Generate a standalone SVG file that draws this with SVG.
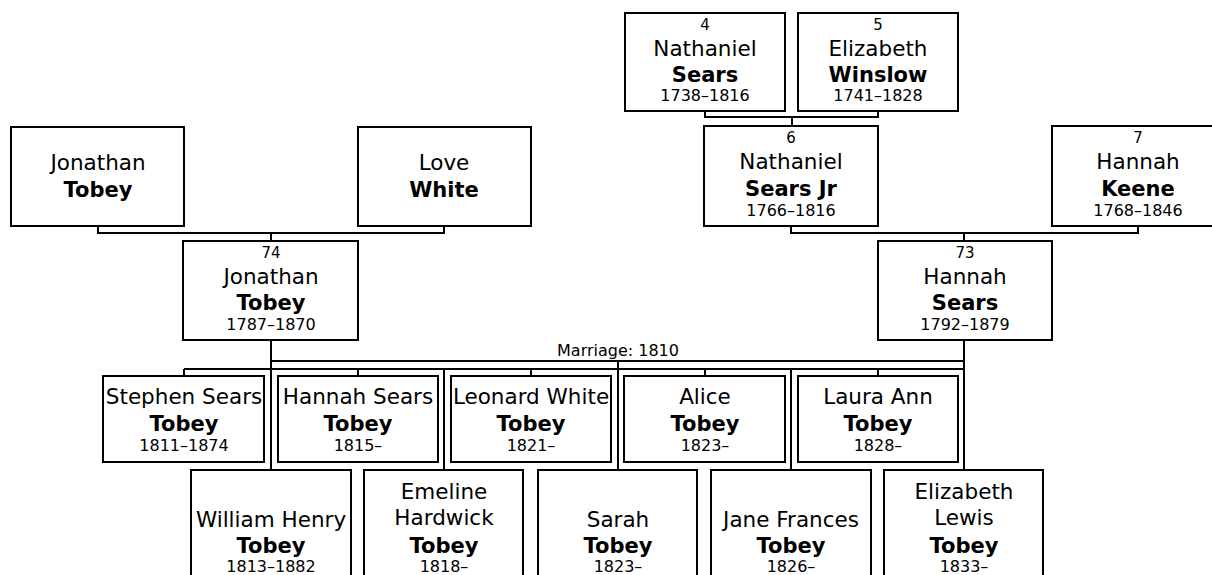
<svg xmlns="http://www.w3.org/2000/svg" width="1212" height="575" viewBox="0 0 1212 575">
<style>
.box{fill:#fff;stroke:#000;stroke-width:2}
.con{fill:none;stroke:#000;stroke-width:2}
text{font-family:"DejaVu Sans","Verdana",sans-serif;fill:#000;text-anchor:middle}
.n{font-size:15px}
.g{font-size:21.5px}
.s{font-size:21px;font-weight:bold}
.y{font-size:16px}
.m{font-size:16px}
</style>
<rect width="1212" height="575" fill="#fff"/>
<g id="connectors">
<path class="con" d="M705,111 V117 H878 V111 M792,117 V126"/>
<path class="con" d="M791,226 V233 H1138 V226 M964,233 V241"/>
<path class="con" d="M98,226 V233 H444 V226 M271,233 V241"/>
<path class="con" d="M271,340 V361 H964 V340"/>
<path class="con" d="M618,361 V369 M184,369 H964"/>
<path class="con" d="M184,369 V376 M358,369 V376 M531,369 V376 M705,369 V376 M878,369 V376"/>
<path class="con" d="M271,361 V470 M444,369 V470 M618,369 V470 M791,369 V470 M964,361 V470"/>
<text class="m" x="618" y="356">Marriage: 1810</text>
</g>
<g id="p4"><rect class="box" x="625" y="13" width="160" height="98"/>
<text class="n" x="705" y="30">4</text><text class="g" x="705" y="56">Nathaniel</text><text class="s" x="705" y="82">Sears</text><text class="y" x="705" y="101">1738–1816</text></g>
<g id="p5"><rect class="box" x="798" y="13" width="160" height="98"/>
<text class="n" x="878" y="30">5</text><text class="g" x="878" y="56">Elizabeth</text><text class="s" x="878" y="82">Winslow</text><text class="y" x="878" y="101">1741–1828</text></g>
<g id="p6"><rect class="box" x="704" y="126" width="174" height="100"/>
<text class="n" x="791" y="143">6</text><text class="g" x="791" y="169">Nathaniel</text><text class="s" x="791" y="196">Sears Jr</text><text class="y" x="791" y="216">1766–1816</text></g>
<g id="p7"><rect class="box" x="1052" y="126" width="173" height="100"/>
<text class="n" x="1138" y="143">7</text><text class="g" x="1138" y="169">Hannah</text><text class="s" x="1138" y="196">Keene</text><text class="y" x="1138" y="216">1768–1846</text></g>
<g id="jonathan-sr"><rect class="box" x="11" y="127" width="173" height="99"/>
<text class="g" x="98" y="170">Jonathan</text><text class="s" x="98" y="197">Tobey</text></g>
<g id="love-white"><rect class="box" x="358" y="127" width="173" height="99"/>
<text class="g" x="444" y="170">Love</text><text class="s" x="444" y="197">White</text></g>
<g id="p74"><rect class="box" x="183" y="241" width="175" height="99"/>
<text class="n" x="271" y="258">74</text><text class="g" x="271" y="284">Jonathan</text><text class="s" x="271" y="310">Tobey</text><text class="y" x="271" y="330">1787–1870</text></g>
<g id="p73"><rect class="box" x="878" y="241" width="174" height="99"/>
<text class="n" x="965" y="258">73</text><text class="g" x="965" y="284">Hannah</text><text class="s" x="965" y="310">Sears</text><text class="y" x="965" y="330">1792–1879</text></g>
<g id="c-stephen"><rect class="box" x="103" y="376" width="161" height="86"/>
<text class="g" x="184" y="404">Stephen Sears</text><text class="s" x="184" y="431">Tobey</text><text class="y" x="184" y="451">1811–1874</text></g>
<g id="c-hannah"><rect class="box" x="278" y="376" width="160" height="86"/>
<text class="g" x="358" y="404">Hannah Sears</text><text class="s" x="358" y="431">Tobey</text><text class="y" x="358" y="451">1815–</text></g>
<g id="c-leonard"><rect class="box" x="451" y="376" width="160" height="86"/>
<text class="g" x="531" y="404">Leonard White</text><text class="s" x="531" y="431">Tobey</text><text class="y" x="531" y="451">1821–</text></g>
<g id="c-alice"><rect class="box" x="624" y="376" width="161" height="86"/>
<text class="g" x="705" y="404">Alice</text><text class="s" x="705" y="431">Tobey</text><text class="y" x="705" y="451">1823–</text></g>
<g id="c-laura"><rect class="box" x="798" y="376" width="160" height="86"/>
<text class="g" x="878" y="404">Laura Ann</text><text class="s" x="878" y="431">Tobey</text><text class="y" x="878" y="451">1828–</text></g>
<g id="c-william"><rect class="box" x="191" y="470" width="160" height="120"/>
<text class="g" x="271" y="527">William Henry</text><text class="s" x="271" y="553">Tobey</text><text class="y" x="271" y="572">1813–1882</text></g>
<g id="c-emeline"><rect class="box" x="364" y="470" width="159" height="120"/>
<text class="g" x="444" y="499">Emeline</text><text class="g" x="444" y="525">Hardwick</text><text class="s" x="444" y="553">Tobey</text><text class="y" x="444" y="572">1818–</text></g>
<g id="c-sarah"><rect class="box" x="538" y="470" width="159" height="120"/>
<text class="g" x="618" y="527">Sarah</text><text class="s" x="618" y="553">Tobey</text><text class="y" x="618" y="572">1823–</text></g>
<g id="c-jane"><rect class="box" x="711" y="470" width="160" height="120"/>
<text class="g" x="791" y="527">Jane Frances</text><text class="s" x="791" y="553">Tobey</text><text class="y" x="791" y="572">1826–</text></g>
<g id="c-elizabeth"><rect class="box" x="884" y="470" width="159" height="120"/>
<text class="g" x="964" y="499">Elizabeth</text><text class="g" x="964" y="525">Lewis</text><text class="s" x="964" y="553">Tobey</text><text class="y" x="964" y="572">1833–</text></g>
</svg>
